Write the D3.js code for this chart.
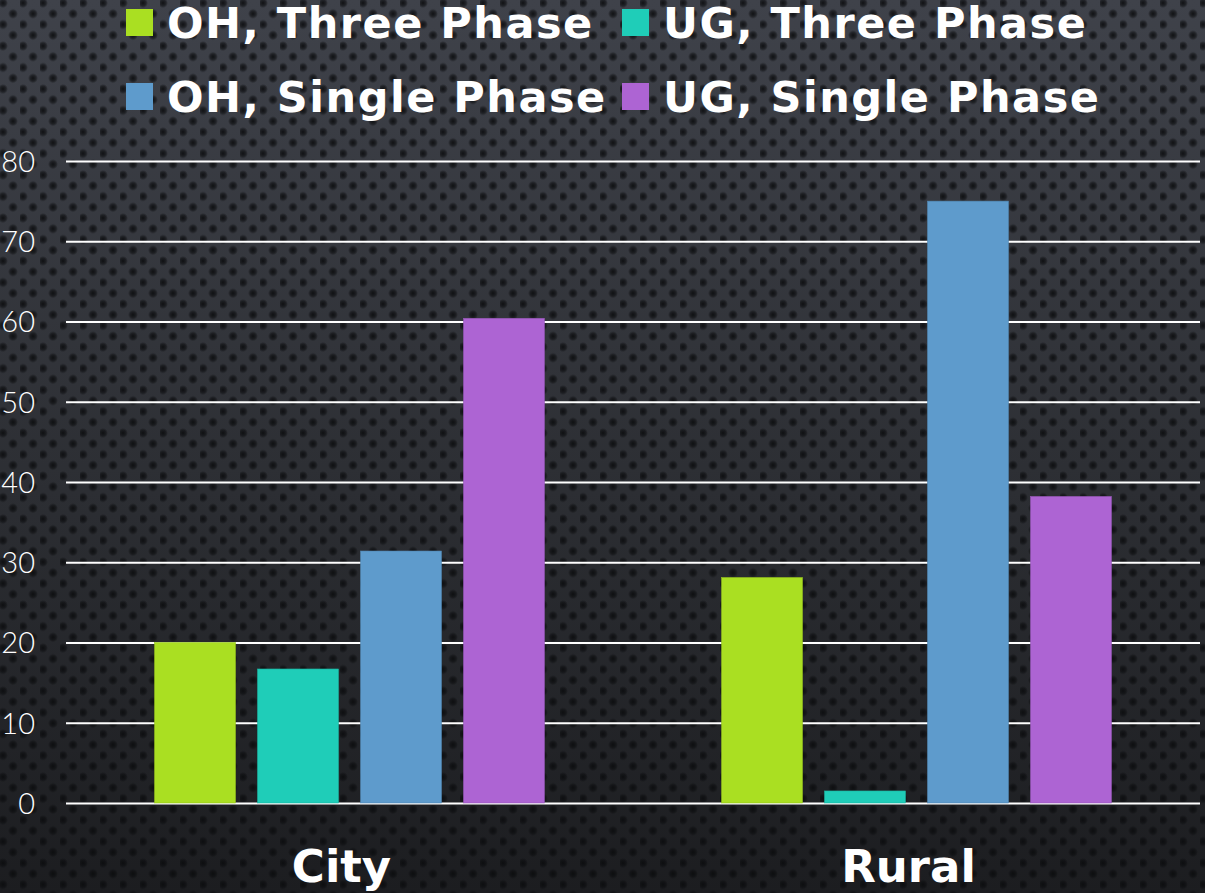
<!DOCTYPE html>
<html>
<head>
<meta charset="utf-8">
<script src="https://cdn.jsdelivr.net/npm/d3@7"></script>
<style>
  html, body { margin: 0; padding: 0; background: #2a2c31; }
  svg { display: block; }
</style>
</head>
<body>
<div id="chart"></div>
<script>
var categories = ['City', 'Rural'];
var seriesNames = ['OH, Three Phase', 'UG, Three Phase', 'OH, Single Phase', 'UG, Single Phase'];
var seriesColors = ['#aadf22', '#1fcdb8', '#5e9bcc', '#ad64d3'];
var cityValues = [20.0, 16.7, 31.4, 60.4];
var ruralValues = [28.1, 1.5, 75.0, 38.2];
var yTicks = [0, 10, 20, 30, 40, 50, 60, 70, 80];

var width = 1205, height = 893;
var plot = { left: 66, right: 1200, top: 161, bottom: 803 };
var boldFont = '"DejaVu Sans", Verdana, sans-serif';

var rows = categories.map(function(c, i) {
  var vals = i === 0 ? cityValues : ruralValues;
  return { cat: c, values: seriesNames.map(function(s, j) { return { name: s, value: vals[j] }; }) };
});

var svg = d3.select('#chart')
  .append('svg')
  .attr('width', width)
  .attr('height', height);

// background: vertical gradient with a dotted texture
var defs = svg.append('defs');
var bg = defs.append('linearGradient')
  .attr('id', 'bg')
  .attr('x1', 0).attr('y1', 0).attr('x2', 0).attr('y2', 1);
bg.append('stop').attr('offset', '0%').attr('stop-color', '#3f424a');
bg.append('stop').attr('offset', '55%').attr('stop-color', '#2c2e33');
bg.append('stop').attr('offset', '100%').attr('stop-color', '#1c1d20');

var dotGrad = defs.append('radialGradient').attr('id', 'dot');
dotGrad.append('stop').attr('offset', '0%').attr('stop-color', '#0b0c0e').attr('stop-opacity', 0.9);
dotGrad.append('stop').attr('offset', '60%').attr('stop-color', '#0b0c0e').attr('stop-opacity', 0.55);
dotGrad.append('stop').attr('offset', '100%').attr('stop-color', '#0b0c0e').attr('stop-opacity', 0);

var pat = defs.append('pattern')
  .attr('id', 'dots')
  .attr('patternUnits', 'userSpaceOnUse')
  .attr('width', 20).attr('height', 21.5);
[[3, 3], [13, 13.75], [-7, 13.75], [23, 24.5], [3, 24.5], [13, -7.75]].forEach(function(p) {
  pat.append('circle').attr('cx', p[0]).attr('cy', p[1]).attr('r', 5).attr('fill', 'url(#dot)');
});

svg.append('rect').attr('width', width).attr('height', height).attr('fill', 'url(#bg)');
svg.append('rect').attr('width', width).attr('height', height).attr('fill', 'url(#dots)');

var x0 = d3.scaleBand()
  .domain(categories)
  .range([plot.left, plot.right]);

var x1 = d3.scaleBand()
  .domain(seriesNames)
  .range([0, x0.bandwidth()])
  .paddingInner(0.214)
  .paddingOuter(0.86);

var y = d3.scaleLinear()
  .domain([0, 80])
  .range([plot.bottom, plot.top]);

var color = d3.scaleOrdinal().domain(seriesNames).range(seriesColors);

// gridlines + y labels
var yAxis = d3.axisLeft(y)
  .tickValues(yTicks)
  .tickSize(-(plot.right - plot.left))
  .tickPadding(31);

var yG = svg.append('g')
  .attr('transform', 'translate(' + plot.left + ',0)')
  .call(yAxis);
yG.select('.domain').remove();
yG.selectAll('.tick line')
  .attr('stroke', '#ffffff')
  .attr('stroke-width', 2);
yG.selectAll('.tick text')
  .attr('fill', '#ffffff')
  .style('font-family', 'Lato, "Open Sans", sans-serif')
  .style('font-weight', 300)
  .style('font-size', '29px')
  .attr('dy', '0.36em');

// bars
var groups = svg.selectAll('.group')
  .data(rows)
  .enter()
  .append('g')
  .attr('class', 'group')
  .attr('transform', function(d) { return 'translate(' + x0(d.cat) + ',0)'; });

groups.selectAll('rect')
  .data(function(d) { return d.values; })
  .enter()
  .append('rect')
  .attr('x', function(d) { return x1(d.name); })
  .attr('width', x1.bandwidth())
  .attr('y', function(d) { return y(d.value); })
  .attr('height', function(d) { return y(0) - y(d.value); })
  .attr('fill', function(d) { return color(d.name); })
  .attr('stroke', function(d) { return d3.color(color(d.name)).darker(0.4); })
  .attr('stroke-width', 0.6);

// category labels
var xAxis = d3.axisBottom(x0).tickSize(0).tickPadding(0);
var xG = svg.append('g')
  .attr('transform', 'translate(-8,' + plot.bottom + ')')
  .call(xAxis);
xG.select('.domain').remove();
xG.selectAll('.tick text')
  .attr('y', 79)
  .attr('dy', 0)
  .attr('fill', '#ffffff')
  .style('font-family', boldFont)
  .style('font-weight', 'bold')
  .style('font-size', '45px');

// legend
var legendPos = [
  { x: 126, y: 9 }, { x: 622, y: 9 },
  { x: 126, y: 83 }, { x: 622, y: 83 }
];
var legend = svg.append('g').attr('class', 'legend');
var item = legend.selectAll('.item')
  .data(seriesNames)
  .enter()
  .append('g')
  .attr('class', 'item')
  .attr('transform', function(d, i) { return 'translate(' + legendPos[i].x + ',' + legendPos[i].y + ')'; });
item.append('rect')
  .attr('width', 27)
  .attr('height', 27)
  .attr('fill', function(d) { return color(d); });
item.append('text')
  .attr('x', 41)
  .attr('y', 29)
  .attr('fill', '#ffffff')
  .style('font-family', boldFont)
  .style('font-weight', 'bold')
  .style('font-size', '43px')
  .style('letter-spacing', '1.5px')
  .text(function(d) { return d; });
</script>
</body>
</html>
